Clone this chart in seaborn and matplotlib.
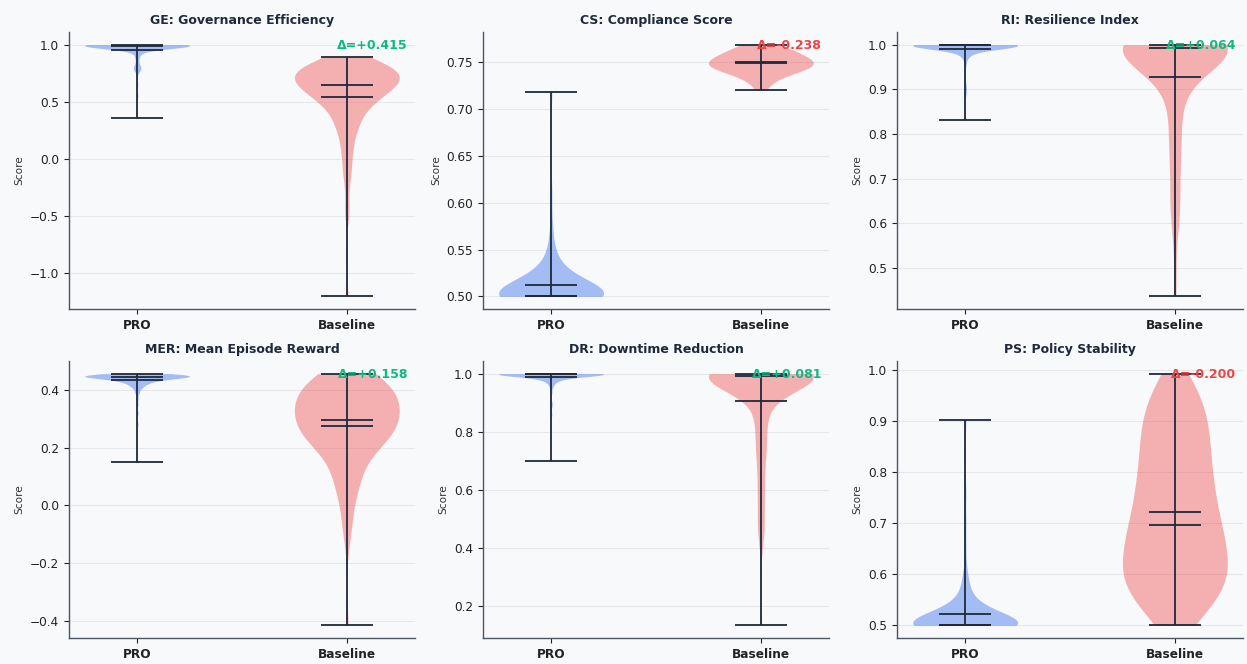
import numpy as np
import pandas as pd
import matplotlib
matplotlib.use("Agg")
import matplotlib.pyplot as plt
import seaborn as sns

# ---------------------------------------------------------------------------
# Evaluation episodes: score levels and how many episodes landed on each level
# ---------------------------------------------------------------------------
groups = ["PRO", "Baseline"]
metrics = ["GE", "CS", "RI", "MER", "DR", "PS"]
titles = [
    "GE: Governance Efficiency",
    "CS: Compliance Score",
    "RI: Resilience Index",
    "MER: Mean Episode Reward",
    "DR: Downtime Reduction",
    "PS: Policy Stability",
]

ge_pro_vals = [1.000, 0.995, 0.990, 0.985, 0.980, 0.970, 0.960, 0.940, 0.910, 0.870,
               0.820, 0.790, 0.760, 0.650, 0.550, 0.360]
ge_pro_counts = [30, 15, 12, 10, 6, 6, 4, 3, 2, 2, 2, 4, 1, 1, 1, 1]
ge_base_vals = [0.887, 0.85, 0.81, 0.77, 0.73, 0.69, 0.65, 0.61, 0.57, 0.53, 0.49, 0.44,
                0.39, 0.33, 0.27, 0.20, 0.12, 0.04, -0.08, -0.15, -0.25, -0.40, -0.50, -1.206]
ge_base_counts = [3, 6, 8, 9, 9, 9, 8, 7, 6, 5, 4, 4, 3, 3, 3, 2, 2, 2, 2, 1, 1, 1, 1, 1]

cs_pro_vals = [0.500, 0.502, 0.504, 0.508, 0.512, 0.517, 0.522, 0.528, 0.535, 0.545,
               0.560, 0.580, 0.610, 0.718]
cs_pro_counts = [53, 2, 8, 7, 6, 5, 5, 4, 3, 2, 2, 1, 1, 1]
cs_base_vals = [0.769, 0.765, 0.760, 0.755, 0.750, 0.746, 0.742, 0.738, 0.733, 0.728,
                0.724, 0.720]
cs_base_counts = [6, 8, 11, 15, 16, 15, 12, 7, 4, 3, 2, 1]

ri_pro_vals = [1.000, 0.998, 0.996, 0.993, 0.990, 0.985, 0.978, 0.970, 0.955, 0.910,
               0.900, 0.890, 0.831]
ri_pro_counts = [50, 12, 10, 8, 6, 4, 3, 2, 1, 1, 1, 1, 1]
ri_base_vals = [1.000, 0.995, 0.990, 0.980, 0.970, 0.955, 0.940, 0.920, 0.895, 0.870,
                0.840, 0.800, 0.760, 0.720, 0.680, 0.640, 0.620, 0.600, 0.500, 0.436]
ri_base_counts = [40, 10, 7, 5, 4, 4, 3, 3, 3, 2, 2, 3, 3, 2, 2, 2, 1, 2, 1, 1]

mer_pro_vals = [0.456, 0.452, 0.448, 0.445, 0.441, 0.436, 0.430, 0.423, 0.415, 0.405,
                0.390, 0.370, 0.350, 0.320, 0.280, 0.149]
mer_pro_counts = [10, 14, 16, 14, 11, 9, 7, 5, 4, 3, 2, 1, 1, 1, 1, 1]
mer_base_vals = [0.456, 0.445, 0.430, 0.415, 0.395, 0.380, 0.365, 0.345, 0.330, 0.315,
                 0.295, 0.280, 0.265, 0.245, 0.225, 0.205, 0.185, 0.165, 0.145, 0.125,
                 0.105, 0.085, 0.060, 0.035, 0.010, -0.020, -0.050, -0.080, -0.120, -0.416]
mer_base_counts = [3, 5, 5, 4, 5, 6, 5, 5, 5, 5, 5, 6, 5, 6, 5, 5, 2, 2, 1, 2,
                   2, 2, 2, 1, 1, 1, 1, 1, 1, 1]

dr_pro_vals = [1.000, 0.997, 0.994, 0.990, 0.985, 0.982, 0.978, 0.968, 0.955, 0.935,
               0.900, 0.890, 0.860, 0.699]
dr_pro_counts = [53, 10, 8, 7, 6, 2, 4, 3, 2, 1, 1, 1, 1, 1]
dr_base_vals = [1.000, 0.995, 0.990, 0.980, 0.970, 0.960, 0.945, 0.930, 0.910, 0.890,
                0.860, 0.830, 0.800, 0.760, 0.740, 0.720, 0.680, 0.650, 0.640, 0.600,
                0.580, 0.560, 0.520, 0.500, 0.470, 0.450, 0.420, 0.135]
dr_base_counts = [40, 10, 6, 4, 3, 3, 4, 3, 2, 2, 2, 2, 2, 2, 1, 2, 1, 1, 1, 1,
                  1, 1, 1, 1, 1, 1, 1, 1]

ps_pro_vals = [0.500, 0.505, 0.510, 0.516, 0.522, 0.530, 0.540, 0.550, 0.562, 0.580,
               0.600, 0.650, 0.700, 0.760, 0.901]
ps_pro_counts = [52, 8, 7, 6, 5, 5, 4, 3, 2, 2, 2, 1, 1, 1, 1]
ps_base_vals = [0.500, 0.520, 0.535, 0.555, 0.570, 0.585, 0.605, 0.620, 0.635, 0.655,
                0.670, 0.685, 0.697, 0.712, 0.728, 0.742, 0.755, 0.770, 0.790, 0.805,
                0.825, 0.840, 0.860, 0.875, 0.890, 0.910, 0.930, 0.945, 0.955, 0.970,
                0.980, 0.992]
ps_base_counts = [2, 3, 3, 4, 4, 5, 5, 5, 4, 4, 4, 3, 5, 2, 3, 3, 3, 3, 4, 3,
                  3, 3, 3, 3, 3, 3, 3, 2, 1, 2, 1, 1]

levels = {
    "GE": ((ge_pro_vals, ge_pro_counts), (ge_base_vals, ge_base_counts)),
    "CS": ((cs_pro_vals, cs_pro_counts), (cs_base_vals, cs_base_counts)),
    "RI": ((ri_pro_vals, ri_pro_counts), (ri_base_vals, ri_base_counts)),
    "MER": ((mer_pro_vals, mer_pro_counts), (mer_base_vals, mer_base_counts)),
    "DR": ((dr_pro_vals, dr_pro_counts), (dr_base_vals, dr_base_counts)),
    "PS": ((ps_pro_vals, ps_pro_counts), (ps_base_vals, ps_base_counts)),
}

# ---------------------------------------------------------------------------
# Styling
# ---------------------------------------------------------------------------
BG = "#f8f9fb"
COLORS = {"PRO": "#2563eb", "Baseline": "#ef4444"}
LINE = "#1e293b"
UP, DOWN = "#10b981", "#ef4444"
# kernel bandwidth (score units) per metric: (PRO, Baseline)
KDE_BW = {
    "GE": (0.025, 0.09),
    "CS": (0.014, 0.007),
    "RI": (0.008, 0.05),
    "MER": (0.007, 0.06),
    "DR": (0.008, 0.05),
    "PS": (0.021, 0.045),
}

plt.rcParams["font.family"] = ["DejaVu Sans"]
plt.rcParams["axes.unicode_minus"] = True

fig, axes = plt.subplots(2, 3, figsize=(12.47, 6.64), dpi=100, facecolor=BG)
fig.subplots_adjust(left=0.0553, right=0.9968, bottom=0.0392, top=0.9518,
                    wspace=0.1965, hspace=0.188)

for ax, key, title in zip(axes.flat, metrics, titles):
    ax.set_facecolor(BG)
    samples = {}
    for i, grp in enumerate(groups):
        vals, counts = levels[key][i]
        s = np.repeat(np.asarray(vals, dtype=float), counts)
        samples[grp] = s
        df = pd.DataFrame({"group": grp, "score": s})
        factor = KDE_BW[key][i] / np.std(s, ddof=1)
        sns.violinplot(data=df, x="group", y="score", order=groups,
                       color=COLORS[grp], saturation=1, inner=None, cut=0,
                       density_norm="width", width=0.5, bw_method=factor,
                       gridsize=400, linewidth=0, alpha=0.4, ax=ax)

        lo, hi = s.min(), s.max()
        ax.vlines(i, lo, hi, color=LINE, lw=1.3, zorder=3)
        ax.hlines([lo, hi, s.mean(), np.median(s)], i - 0.125, i + 0.125,
                  color=LINE, lw=1.3, zorder=3)

    delta = samples["PRO"].mean() - samples["Baseline"].mean()
    ax.text(0.98, 0.975, f"Δ={delta:+.3f}", transform=ax.transAxes,
            ha="right", va="top", fontsize=9, fontweight="bold",
            color=UP if delta >= 0 else DOWN, zorder=5)

    ax.set_xlim(-0.325, 1.325)
    ax.set_xticks([0, 1])
    ax.set_xticklabels(groups, fontsize=8.7, fontweight="bold", color="#111827")
    ax.set_xlabel("")
    ax.set_ylabel("Score", fontsize=7.6, color="#333333")
    ax.set_title(title, fontsize=9, fontweight="bold", color="#1e293b")
    ax.tick_params(axis="y", labelsize=8.7, colors="#222222")
    ax.tick_params(axis="x", colors="#222222")
    ax.yaxis.grid(True, color="#e5e7eb", lw=0.8)
    ax.xaxis.grid(False)
    ax.set_axisbelow(True)
    for side in ("top", "right"):
        ax.spines[side].set_visible(False)
    for side in ("left", "bottom"):
        ax.spines[side].set_color("#4b5563")
        ax.spines[side].set_linewidth(1.0)

fig.savefig("out.png", dpi=100, facecolor=BG)
